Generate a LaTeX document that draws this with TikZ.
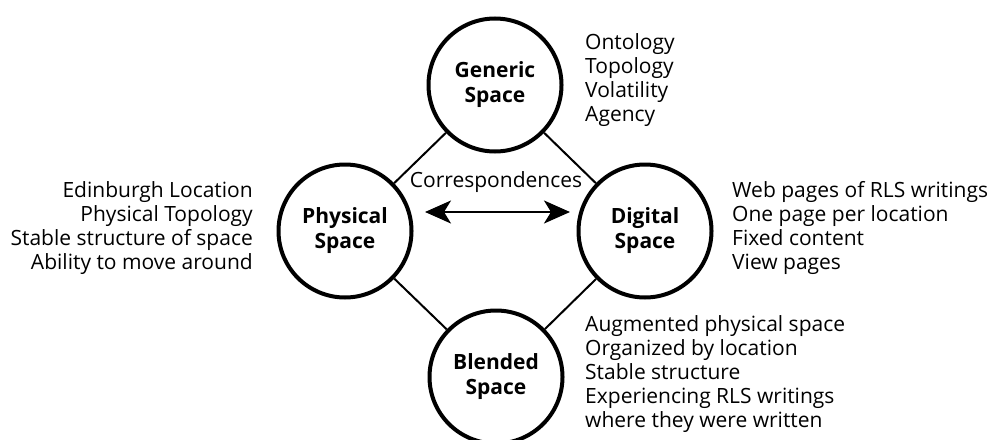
\documentclass[tikz,border=0pt]{standalone}
\usepackage{fontspec}
\setmainfont{Open Sans}
\usetikzlibrary{arrows.meta}
\begin{document}
\begin{tikzpicture}[x=1pt,y=-1pt,
  space/.style={circle,draw,line width=4pt,minimum size=133pt,inner sep=0pt,align=center,font=\fontsize{21}{25}\selectfont\bfseries},
  label/.style={inner sep=0pt,font=\fontsize{21}{24}\selectfont},
  link/.style={line width=2pt}]
\useasboundingbox (0,0) rectangle (990,439);
\node[space] (gen) at (495,85) {Generic\\Space};
\node[space] (phy) at (345,231) {Physical\\Space};
\node[space] (dig) at (645,231) {Digital\\Space};
\node[space] (ble) at (496,377) {Blended\\Space};
\draw[link] (gen) -- (phy);
\draw[link] (gen) -- (dig);
\draw[link] (phy) -- (ble);
\draw[link] (dig) -- (ble);
\coordinate (al) at (425,212);
\coordinate (ar) at (570,212);
\draw[link,{Stealth[length=26pt,width=23pt,inset=7pt]}-{Stealth[length=26pt,width=23pt,inset=7pt]}] (al) -- (ar);
\node[label] (corr) at (496,182) {Correspondences};
\node[label,anchor=west,align=left] (genl) at (585,80) {Ontology\\Topology\\Volatility\\Agency};
\node[label,anchor=east,align=right] (phyl) at (253,228) {Edinburgh Location\\Physical Topology\\Stable structure of space\\Ability to move around};
\node[label,anchor=west,align=left] (digl) at (732,228) {Web pages of RLS writings\\One page per location\\Fixed content\\View pages};
\node[label,anchor=west,align=left] (blel) at (585,374) {Augmented physical space\\Organized by location\\Stable structure\\Experiencing RLS writings\\where they were written};
\end{tikzpicture}
\end{document}
